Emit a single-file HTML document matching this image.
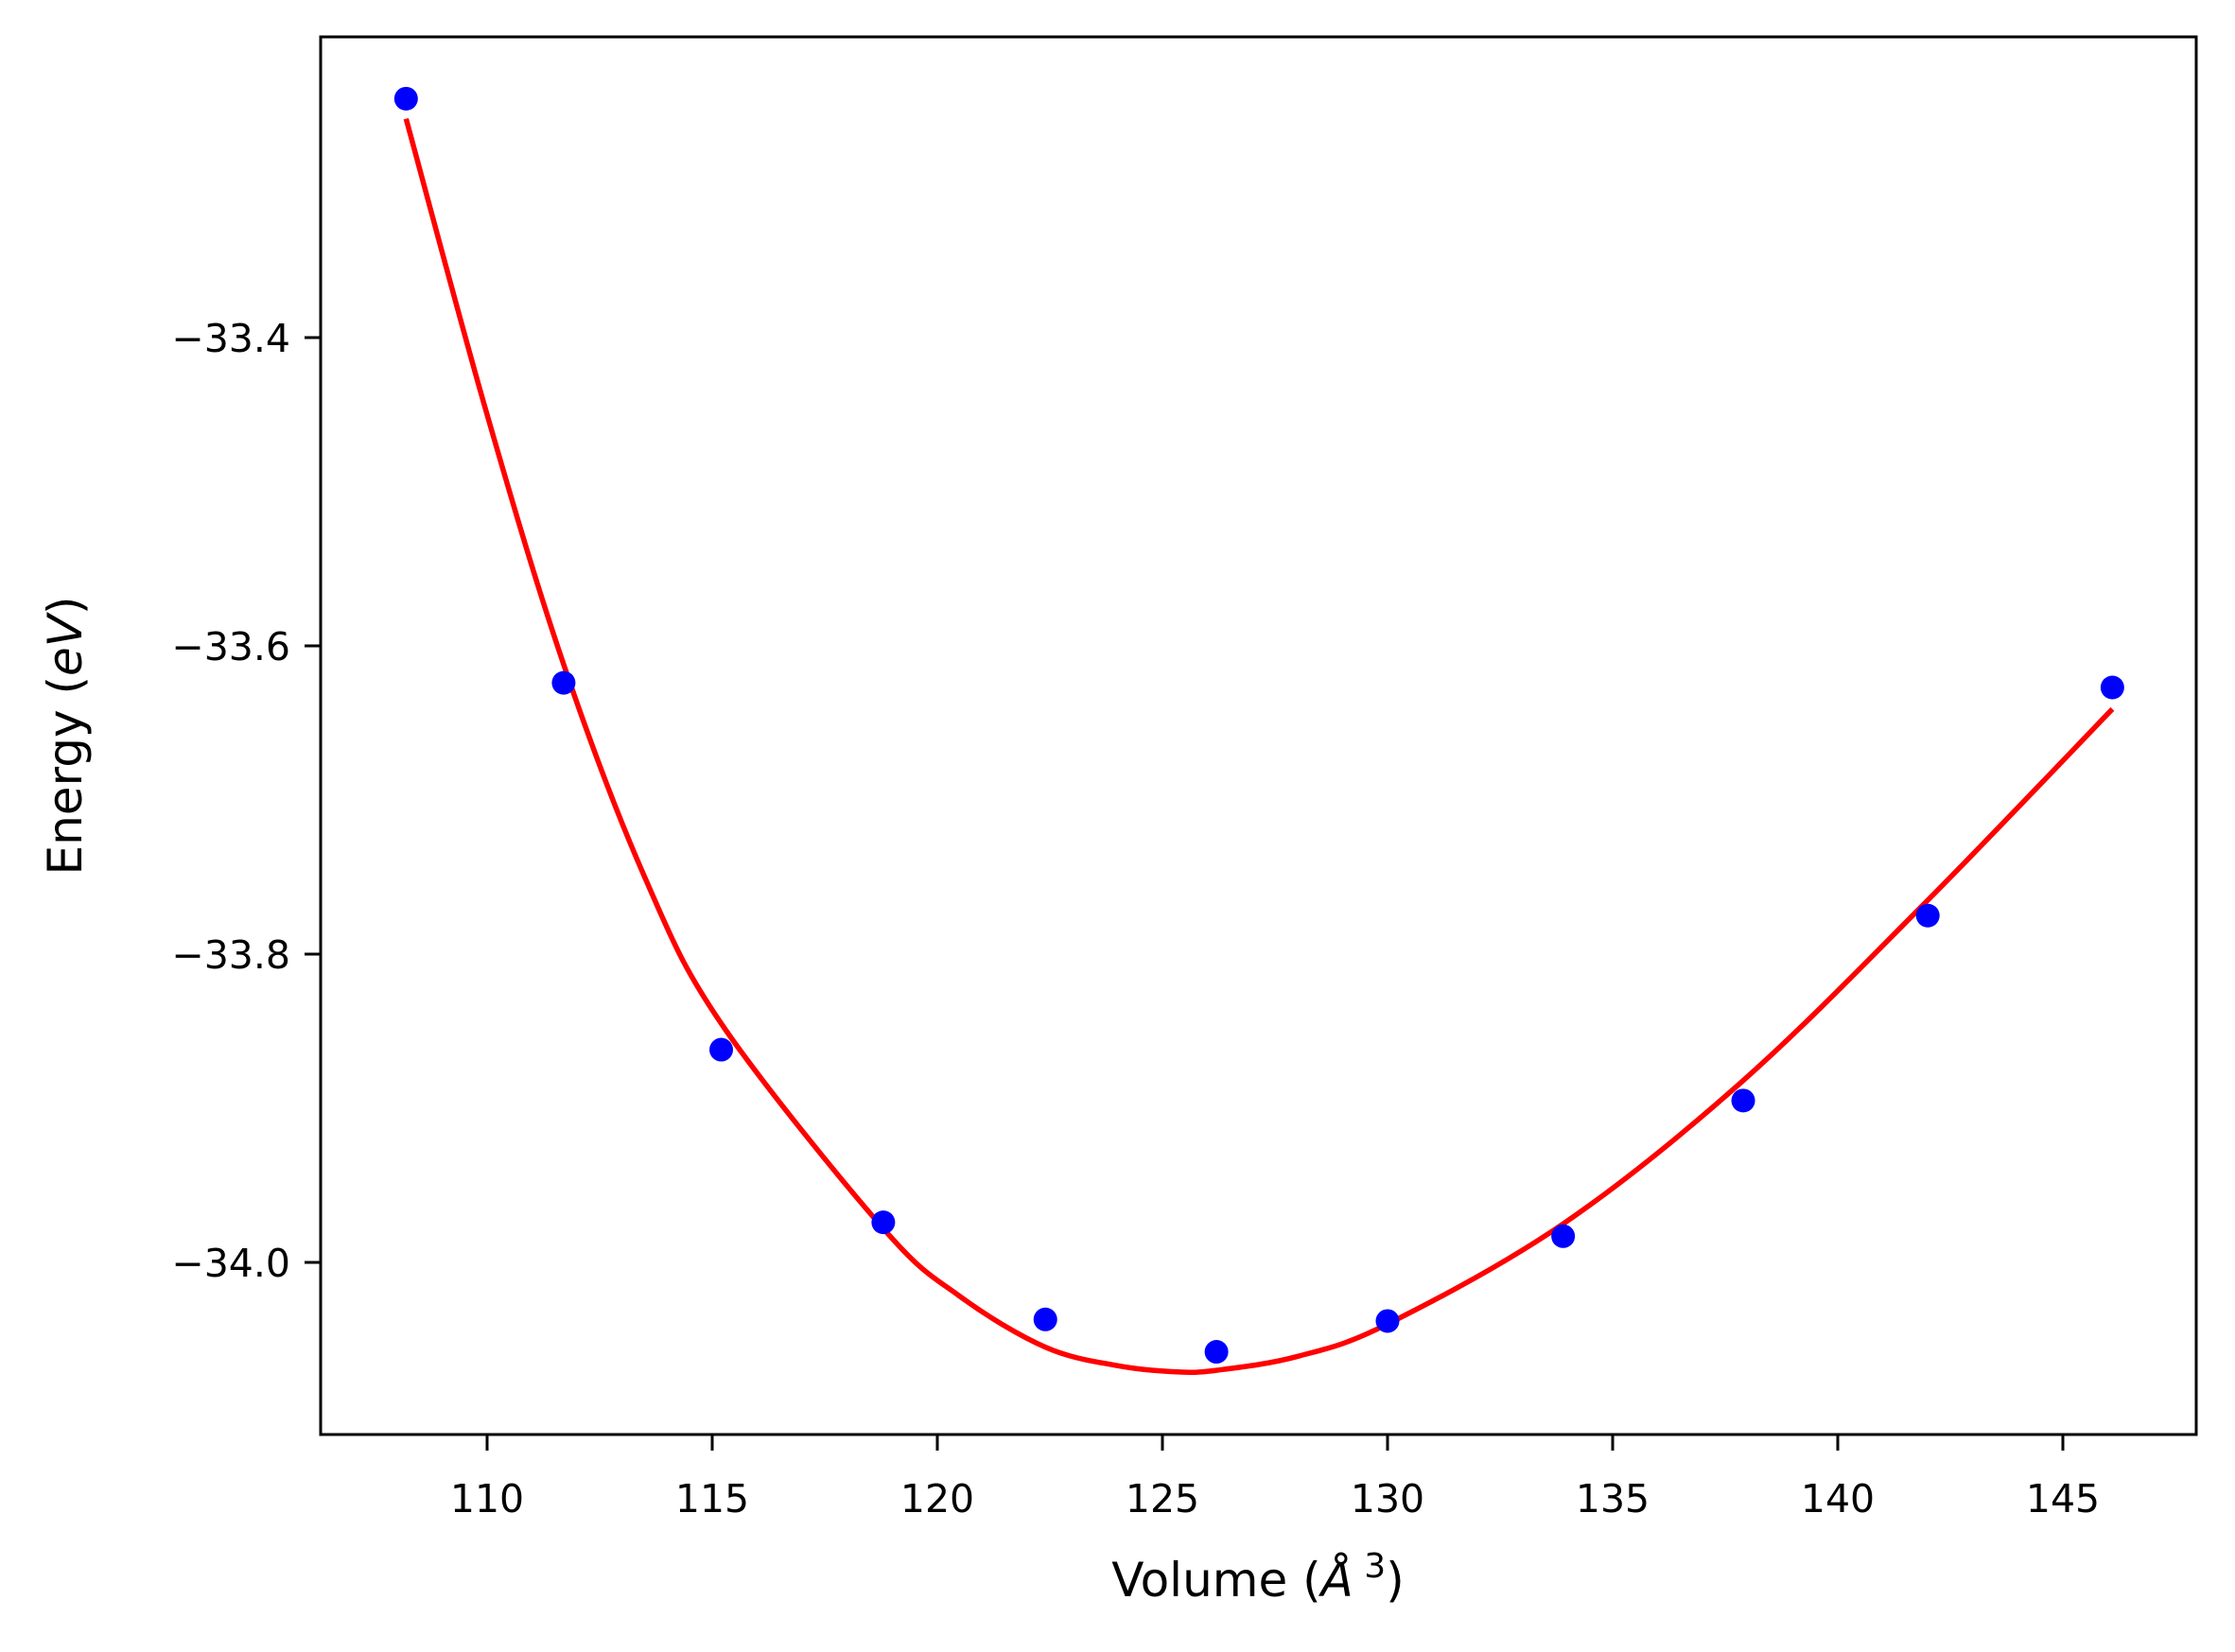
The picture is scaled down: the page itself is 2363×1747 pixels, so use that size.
<!DOCTYPE html>
<html><head><meta charset="utf-8"><style>
html,body{margin:0;padding:0;background:#fff;}
svg{display:block;font-family:"DejaVu Sans","Liberation Sans",sans-serif;}
</style></head><body>
<svg id="chart" width="2363" height="1747" viewBox="0 0 2363 1747" xmlns="http://www.w3.org/2000/svg">
<rect width="2363" height="1747" fill="#fff"/>
<g id="plot"></g>
<g id="xticks"></g>
<g id="yticks"></g>
<rect x="339" y="39" width="1983" height="1478" fill="none" stroke="#000" stroke-width="3"/>
<text x="1330" y="1688" font-size="50" text-anchor="middle">Volume (<tspan font-style="italic">Å</tspan><tspan font-size="36" dy="-20"> 3</tspan><tspan dy="20">)</tspan></text>
<text transform="translate(86,778) rotate(-90)" font-size="50" text-anchor="middle">Energy (<tspan font-style="italic">eV</tspan>)</text>
</svg>
<script>
const volumes = [108.2, 111.7, 115.2, 118.8, 122.4, 126.2, 130.0, 133.9, 137.9, 142.0, 146.1];
const energies = [-33.245, -33.624, -33.862, -33.974, -34.037, -34.058, -34.038, -33.983, -33.895, -33.775, -33.627];
const fitVolumes = [108.2, 110.0, 111.7, 113.5, 115.2, 118.8, 120.5, 122.4, 124.0, 125.3, 126.2, 128.0, 130.0, 133.9, 137.9, 142.0, 146.1];
const fitEnergies = [-33.258, -33.45, -33.612, -33.75, -33.845, -33.978, -34.022, -34.055, -34.067, -34.071, -34.070, -34.061, -34.040, -33.975, -33.882, -33.765, -33.641];
const xTickLabels = ["110", "115", "120", "125", "130", "135", "140", "145"];
const yTickLabels = ["−33.4", "−33.6", "−33.8", "−34.0"];
const xTickValues = [110, 115, 120, 125, 130, 135, 140, 145];
const yTickValues = [-33.4, -33.6, -33.8, -34.0];

const NS = "http://www.w3.org/2000/svg";
function sx(v){ return 515 + (v - 110) * 47.6; }
function sy(e){ return 357 + (-33.4 - e) * 1630; }

const plot = document.getElementById('plot');
// fitted curve (Catmull-Rom smoothing)
let pts = fitVolumes.map((v,i)=>[sx(v), sy(fitEnergies[i])]);
let d = "M" + pts[0][0] + "," + pts[0][1];
for (let i=0;i<pts.length-1;i++){
  const p0 = pts[Math.max(0,i-1)], p1 = pts[i], p2 = pts[i+1], p3 = pts[Math.min(pts.length-1,i+2)];
  const c1x = p1[0] + (p2[0]-p0[0])/6, c1y = p1[1] + (p2[1]-p0[1])/6;
  const c2x = p2[0] - (p3[0]-p1[0])/6, c2y = p2[1] - (p3[1]-p1[1])/6;
  d += " C" + c1x + "," + c1y + " " + c2x + "," + c2y + " " + p2[0] + "," + p2[1];
}
const path = document.createElementNS(NS,'path');
path.setAttribute('d', d);
path.setAttribute('fill','none');
path.setAttribute('stroke','#ff0000');
path.setAttribute('stroke-width','5.5');


plot.appendChild(path);

volumes.forEach((v,i)=>{
  const c = document.createElementNS(NS,'circle');
  c.setAttribute('cx', sx(v));
  c.setAttribute('cy', sy(energies[i]));
  c.setAttribute('r', 12.5);
  c.setAttribute('fill', '#0000ff');
  
  
  plot.appendChild(c);
});

const xg = document.getElementById('xticks');
xTickValues.forEach((v,i)=>{
  const x = sx(v);
  const l = document.createElementNS(NS,'line');
  l.setAttribute('x1',x); l.setAttribute('x2',x); l.setAttribute('y1',1517); l.setAttribute('y2',1534);
  l.setAttribute('stroke','#000'); l.setAttribute('stroke-width','3');
  
  
  xg.appendChild(l);
  const t = document.createElementNS(NS,'text');
  t.setAttribute('x',x); t.setAttribute('y',1599);
  t.setAttribute('font-size','41'); t.setAttribute('text-anchor','middle');
  t.textContent = xTickLabels[i];
  
  
  xg.appendChild(t);
});
const yg = document.getElementById('yticks');
yTickValues.forEach((v,i)=>{
  const y = sy(v);
  const l = document.createElementNS(NS,'line');
  l.setAttribute('x1',322); l.setAttribute('x2',339); l.setAttribute('y1',y); l.setAttribute('y2',y);
  l.setAttribute('stroke','#000'); l.setAttribute('stroke-width','3');
  
  
  yg.appendChild(l);
  const t = document.createElementNS(NS,'text');
  t.setAttribute('x',307); t.setAttribute('y',y+15);
  t.setAttribute('font-size','41'); t.setAttribute('text-anchor','end');
  t.textContent = yTickLabels[i];
  
  
  yg.appendChild(t);
});
</script>
</body></html>
